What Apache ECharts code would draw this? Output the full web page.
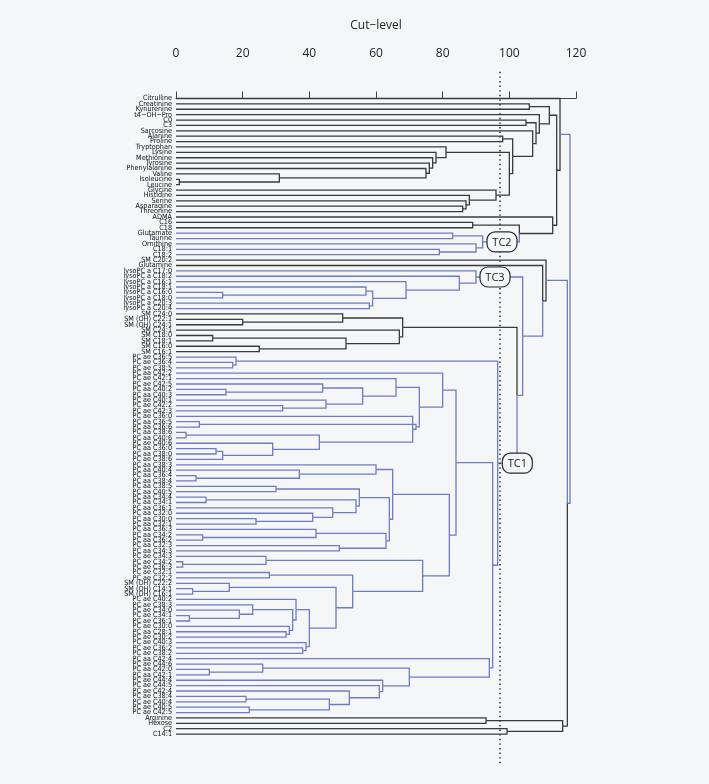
<!DOCTYPE html>
<html>
<head>
<meta charset="utf-8">
<script src="https://cdn.jsdelivr.net/npm/echarts@6/dist/echarts.min.js"></script>
<style>
html, body { margin: 0; padding: 0; background: #f4f6f8; }
#main { width: 709px; height: 784px; }
</style>
</head>
<body>
<div id="main"></div>
<script>
// leaf labels, top to bottom
var leafNames = [
  'Citrulline', 'Creatinine', 'Kynurenine', 't4\u2212OH\u2212Pro', 'C0', 'C3', 'Sarcosine', 'Alanine',
  'Proline', 'Tryptophan', 'Lysine', 'Methionine', 'Tyrosine', 'Phenylalanine', 'Valine', 'Isoleucine',
  'Leucine', 'Glycine', 'Histidine', 'Serine', 'Asparagine', 'Threonine', 'ADMA', 'C16', 'C18',
  'Glutamate', 'Taurine', 'Ornithine', 'C18:1', 'C18:2', 'SM C20:2', 'Glutamine',
  'lysoPC a C17:0', 'lysoPC a C18:2', 'lysoPC a C16:1', 'lysoPC a C18:1', 'lysoPC a C16:0',
  'lysoPC a C18:0', 'lysoPC a C20:3', 'lysoPC a C20:4',
  'SM C24:0', 'SM (OH) C22:1', 'SM (OH) C24:1', 'SM C24:1', 'SM C18:0', 'SM C18:1', 'SM C16:0', 'SM C16:1',
  'PC ae C36:5', 'PC ae C36:4', 'PC ae C38:5', 'PC aa C42:2', 'PC ae C42:1', 'PC ae C42:5',
  'PC aa C40:2', 'PC aa C40:3', 'PC ae C40:1', 'PC ae C42:2', 'PC ae C42:3', 'PC ae C36:0',
  'PC aa C36:5', 'PC aa C36:6', 'PC aa C38:6', 'PC aa C40:6', 'PC ae C40:6', 'PC aa C36:0',
  'PC aa C38:0', 'PC ae C38:6', 'PC aa C38:3', 'PC aa C40:4', 'PC aa C36:4', 'PC aa C38:4',
  'PC aa C38:5', 'PC aa C40:5', 'PC aa C34:4', 'PC aa C34:1', 'PC aa C36:1', 'PC aa C32:0',
  'PC aa C30:0', 'PC aa C32:1', 'PC aa C36:3', 'PC aa C34:2', 'PC aa C36:2', 'PC aa C32:3',
  'PC aa C34:3', 'PC ae C34:3', 'PC ae C34:2', 'PC ae C36:3', 'PC ae C32:1', 'PC ae C32:2',
  'SM (OH) C22:2', 'SM (OH) C14:1', 'SM (OH) C16:1', 'PC ae C40:2', 'PC ae C38:3', 'PC ae C34:0',
  'PC ae C34:1', 'PC ae C36:1', 'PC ae C30:0', 'PC aa C28:1', 'PC ae C30:2', 'PC ae C40:3',
  'PC ae C36:2', 'PC ae C38:2', 'PC aa C42:4', 'PC ae C44:6', 'PC aa C42:0', 'PC aa C42:1',
  'PC ae C44:4', 'PC ae C44:5', 'PC ae C42:4', 'PC ae C38:4', 'PC ae C40:4', 'PC ae C40:5',
  'PC ae C42:5', 'Arginine', 'Hexose', 'C2', 'C14:1'
];

// leaves in the blue group (1-based positions, inclusive)
var blueLeafRanges = [[26, 30], [33, 40], [49, 115]];

// merges: [name, left, right, cut-level, edge in blue group]
// numbers are leaf positions, strings are earlier merges
var merges = [
  ['na', 2, 3, 106, 0], ['nb', 5, 6, 105, 0], ['ap', 8, 9, 98, 0],
  ['il', 16, 17, 1, 0], ['v', 15, 'il', 31, 0], ['p14', 14, 'v', 75, 0],
  ['t13', 13, 'p14', 76, 0], ['m12', 12, 't13', 77, 0], ['l11', 11, 'm12', 78, 0],
  ['w10', 10, 'l11', 81, 0],
  ['g4', 21, 22, 86, 0], ['g3', 20, 'g4', 87, 0], ['g2', 19, 'g3', 88, 0], ['g1', 18, 'g2', 96, 0],
  ['wg', 'w10', 'g1', 100, 0], ['apwg', 'ap', 'wg', 101, 0], ['s7', 7, 'apwg', 107, 0],
  ['s6', 'nb', 's7', 108, 0], ['s4', 4, 's6', 109, 0], ['top', 'na', 's4', 112, 0],
  ['c16', 24, 25, 89, 0], ['gt', 26, 27, 83, 1], ['c18u', 29, 30, 79, 1],
  ['oc', 28, 'c18u', 90, 1], ['tc2', 'gt', 'oc', 92, 1], ['ct', 'c16', 'tc2', 103, 0],
  ['adma', 23, 'ct', 113, 0], ['xx', 'top', 'adma', 114.2, 0], ['bb', 1, 'xx', 115.2, 1],
  // lysoPC
  ['a1', 37, 38, 14, 1], ['a36', 36, 'a1', 57, 1], ['a2', 39, 40, 58, 1],
  ['a3', 'a36', 'a2', 59, 1], ['a35', 35, 'a3', 69, 1], ['a34', 34, 'a35', 85, 1],
  ['lyso', 33, 'a34', 90, 1],
  // SM
  ['s42', 42, 43, 20, 0], ['s41', 41, 's42', 50, 0], ['s45', 45, 46, 11, 0],
  ['s47', 47, 48, 25, 0], ['s4548', 's45', 's47', 51, 0], ['s44', 44, 's4548', 67, 0],
  ['sm', 's41', 's44', 68, 0],
  // PC
  ['e50', 50, 51, 17, 1], ['gtop', 49, 'e50', 18, 1],
  ['k55', 55, 56, 15, 1], ['k54', 54, 'k55', 44, 1], ['k58', 58, 59, 32, 1],
  ['k57', 57, 'k58', 45, 1], ['k5459', 'k54', 'k57', 56, 1], ['k1', 53, 'k5459', 66, 1],
  ['i1', 61, 62, 7, 1], ['i2', 63, 64, 3, 1], ['i3', 66, 67, 12, 1], ['i4', 'i3', 68, 14, 1],
  ['i5', 65, 'i4', 29, 1], ['i6', 'i2', 'i5', 43, 1], ['i7', 60, 'i6', 71, 1],
  ['i8', 'i1', 'i7', 72, 1], ['zz', 'k1', 'i8', 73, 1], ['na80', 52, 'zz', 80, 1],
  ['j71', 71, 72, 6, 1], ['j70', 70, 'j71', 37, 1], ['j69', 69, 'j70', 60, 1],
  ['f73', 73, 74, 30, 1], ['g75', 75, 76, 9, 1], ['j79', 79, 80, 24, 1], ['j78', 78, 'j79', 41, 1],
  ['h1', 77, 'j78', 47, 1], ['h2', 'g75', 'h1', 54, 1], ['h3', 'f73', 'h2', 55, 1],
  ['j82', 82, 83, 8, 1], ['j81', 81, 'j82', 42, 1], ['j84', 84, 85, 49, 1],
  ['n63', 'j81', 'j84', 63, 1], ['n64', 'h3', 'n63', 64, 1], ['n65', 'j69', 'n64', 65, 1],
  ['j87', 87, 88, 2, 1], ['j86', 86, 'j87', 27, 1], ['j89', 89, 90, 28, 1],
  ['j92', 92, 93, 5, 1], ['j91', 91, 'j92', 16, 1],
  ['a97', 97, 98, 4, 1], ['b96', 96, 'a97', 19, 1], ['c95', 95, 'b96', 23, 1],
  ['d100', 100, 101, 33, 1], ['e99', 99, 'd100', 34, 1], ['w', 'c95', 'e99', 35, 1],
  ['u', 94, 'w', 36, 1], ['v103', 103, 104, 38, 1], ['v102', 102, 'v103', 39, 1],
  ['t', 'u', 'v102', 40, 1], ['r', 'j91', 't', 48, 1], ['q', 'j89', 'r', 53, 1],
  ['c74', 'j86', 'q', 74, 1], ['nb82', 'n65', 'c74', 82, 1], ['n1', 'na80', 'nb82', 84, 1],
  ['j107', 107, 108, 10, 1], ['j106', 106, 'j107', 26, 1],
  ['j112', 112, 113, 21, 1], ['j114', 114, 115, 22, 1], ['j112b', 'j112', 'j114', 46, 1],
  ['j111', 111, 'j112b', 52, 1], ['j110', 110, 'j111', 61, 1], ['j109', 109, 'j110', 62, 1],
  ['n70', 'j106', 'j109', 70, 1], ['n2', 105, 'n70', 94, 1], ['n3', 'n1', 'n2', 95, 1],
  ['pcroot', 'gtop', 'n3', 96.5, 1],
  // upper levels
  ['smpc', 'sm', 'pcroot', 102.3, 1], ['yy', 'lyso', 'smpc', 104, 1],
  ['zg', 32, 'yy', 110, 0], ['pp', 31, 'zg', 111, 1],
  ['arg1', 116, 117, 93, 0], ['arg2', 118, 119, 99.3, 0], ['arg', 'arg1', 'arg2', 116, 0],
  ['qq', 'pp', 'arg', 117.4, 1], ['root', 'bb', 'qq', 118.2, 0]
];

var cutLevel = 97.2;
var tcLabels = ['TC1', 'TC2', 'TC3'];
var tcNodes = ['pcroot', 'tc2', 'lyso'];
var tcLevels = [102.4, 97.8, 95.7];

var DARK = '#3b3b3b';
var BLUE = '#6e7dc0';

function isBlueLeaf(i) {
  return blueLeafRanges.some(function (r) { return i >= r[0] && i <= r[1]; });
}

// node positions: leaves at index (0-based), internal nodes at mean of children
var nodeH = {}, nodeY = {}, nodeBlue = {};
function lookup(ref) {
  if (typeof ref === 'number') return { h: 0, y: ref - 1, blue: isBlueLeaf(ref) };
  return { h: nodeH[ref], y: nodeY[ref], blue: nodeBlue[ref] };
}
var edges = [];
merges.forEach(function (m) {
  var a = lookup(m[1]), b = lookup(m[2]);
  nodeH[m[0]] = m[3];
  nodeY[m[0]] = (a.y + b.y) / 2;
  nodeBlue[m[0]] = !!m[4];
  edges.push([m[3], nodeY[m[0]], a.h, a.y, a.blue ? 1 : 0]);
  edges.push([m[3], nodeY[m[0]], b.h, b.y, b.blue ? 1 : 0]);
});

var tcData = tcLabels.map(function (t, i) {
  return [tcLevels[i], nodeY[tcNodes[i]], t];
});

var chart = echarts.init(document.getElementById('main'));

var option = {
  backgroundColor: '#f4f6f8',
  animation: false,
  grid: { left: 176, top: 95.8, width: 400, height: 641 },
  xAxis: {
    type: 'value', position: 'top', offset: 26,
    min: 0, max: 120, interval: 20,
    name: 'Cut\u2212level', nameLocation: 'middle', nameGap: 38,
    nameTextStyle: { fontSize: 12, color: '#222', fontFamily: 'Open Sans, sans-serif' },
    axisLine: { show: true, lineStyle: { color: '#444', width: 1 } },
    axisTick: { show: true, inside: false, length: 7, lineStyle: { color: '#444' } },
    axisLabel: { fontSize: 12, color: '#222', margin: 10, fontFamily: 'Open Sans, sans-serif' },
    splitLine: { show: false }
  },
  yAxis: [
    {
      type: 'category', data: leafNames, inverse: true,
      axisLine: { show: false }, axisTick: { show: false }, splitLine: { show: false },
      axisLabel: {
        interval: 0, fontSize: 7.2, margin: 4, color: '#111',
        fontFamily: "'Liberation Sans Narrow', 'DejaVu Sans Condensed', sans-serif"
      }
    },
    { type: 'value', min: -0.5, max: 118.5, inverse: true, show: false }
  ],
  series: [
    {
      type: 'custom', yAxisIndex: 1, silent: true,
      data: edges,
      encode: { x: [0, 2], y: [1, 3] },
      renderItem: function (params, api) {
        var p = api.coord([api.value(0), api.value(1)]);
        var c = api.coord([api.value(2), api.value(3)]);
        return {
          type: 'polyline',
          shape: { points: [p, [p[0], c[1]], c] },
          style: { stroke: api.value(4) ? BLUE : DARK, fill: 'none', lineWidth: 1.3 }
        };
      }
    },
    {
      type: 'custom', yAxisIndex: 1, silent: true, z: 3,
      data: [[cutLevel]],
      renderItem: function (params, api) {
        var x = api.coord([api.value(0), 0])[0];
        var cs = params.coordSys;
        return {
          type: 'line',
          shape: { x1: x, y1: cs.y - 24, x2: x, y2: cs.y + cs.height + 28 },
          style: { stroke: '#333', lineWidth: 1.6, lineDash: [1.4, 3.2] }
        };
      }
    },
    {
      type: 'custom', yAxisIndex: 1, silent: true, z: 5,
      data: tcData,
      renderItem: function (params, api) {
        var p = api.coord([api.value(0), api.value(1)]);
        return {
          type: 'group',
          children: [
            {
              type: 'rect',
              shape: { x: p[0] - 15, y: p[1] - 10, width: 30, height: 20, r: 8 },
              style: { fill: '#f4f6f8', stroke: '#2b2b2b', lineWidth: 1.2 }
            },
            {
              type: 'text',
              style: {
                text: tcLabels[params.dataIndex], x: p[0], y: p[1] + 0.5,
                align: 'center', verticalAlign: 'middle',
                fontSize: 11, fill: '#222', fontFamily: 'Open Sans, sans-serif'
              }
            }
          ]
        };
      }
    }
  ]
};

chart.setOption(option);
</script>
</body>
</html>
